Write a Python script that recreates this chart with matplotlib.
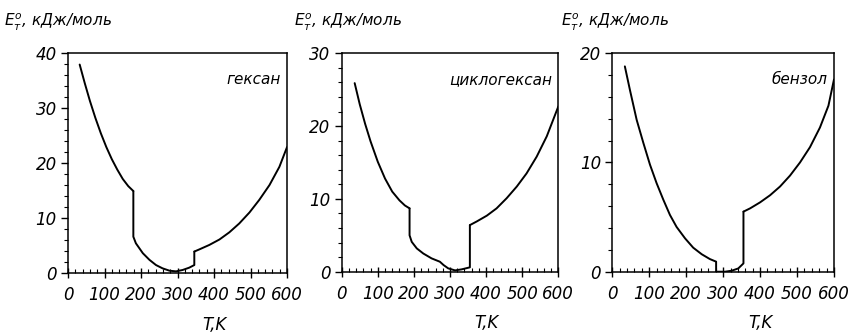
import matplotlib
matplotlib.use("Agg")
import matplotlib.pyplot as plt
from matplotlib.ticker import MultipleLocator

# ---- data ----
hex_T1 = [32, 46, 60, 75, 90, 105, 120, 135, 150, 165, 179]
hex_E1 = [37.9, 34.5, 31.3, 28.2, 25.4, 22.9, 20.7, 18.8, 17.1, 15.8, 14.9]
hex_T2 = [179, 179, 186, 205, 223, 241, 259, 278, 296, 314, 332, 346, 346]
hex_E2 = [14.9, 6.6, 5.4, 3.6, 2.4, 1.45, 0.85, 0.42, 0.3, 0.55, 0.97, 1.45, 3.9]
hex_T3 = [346, 360, 387, 415, 442, 469, 497, 524, 552, 579, 600]
hex_E3 = [3.9, 4.3, 5.1, 6.1, 7.4, 9.0, 11.0, 13.3, 16.0, 19.3, 22.9]

cyc_T1 = [36, 50, 65, 80, 100, 120, 140, 160, 175, 188]
cyc_E1 = [25.9, 23.0, 20.3, 17.9, 15.1, 12.8, 11.0, 9.8, 9.1, 8.7]
cyc_T2 = [188, 188, 194, 208, 226, 249, 272, 282, 295, 314, 332, 355, 355]
cyc_E2 = [8.7, 5.0, 4.1, 3.2, 2.5, 1.83, 1.37, 0.92, 0.46, 0.18, 0.32, 0.6, 6.4]
cyc_T3 = [355, 374, 402, 429, 457, 485, 512, 540, 568, 600]
cyc_E3 = [6.4, 6.9, 7.7, 8.7, 10.1, 11.7, 13.5, 15.8, 18.6, 22.7]

ben_T1 = [34, 48, 66, 84, 102, 120, 138, 156, 174, 197, 219, 242, 264, 281, 281]
ben_E1 = [18.8, 16.6, 13.9, 11.8, 9.8, 8.1, 6.6, 5.2, 4.1, 3.05, 2.2, 1.6, 1.16, 0.92, 0.0]
ben_T2 = [281, 305, 323, 341, 355, 355]
ben_E2 = [0.0, 0.0, 0.09, 0.3, 0.76, 5.5]
ben_T3 = [355, 373, 400, 427, 454, 481, 508, 535, 562, 585, 600]
ben_E3 = [5.5, 5.8, 6.35, 7.0, 7.8, 8.8, 10.0, 11.4, 13.2, 15.2, 17.6]

names = ["гексан", "циклогексан", "бензол"]
y_max = [40, 30, 20]
x_ticks = [0, 100, 200, 300, 400, 500, 600]
ylabel = r"$E_т^о$, кДж/моль"
xlabel = "T,K"

series = [
    [(hex_T1, hex_E1), (hex_T2, hex_E2), (hex_T3, hex_E3)],
    [(cyc_T1, cyc_E1), (cyc_T2, cyc_E2), (cyc_T3, cyc_E3)],
    [(ben_T1, ben_E1), (ben_T2, ben_E2), (ben_T3, ben_E3)],
]

plt.rcParams['font.family'] = ['DejaVu Sans']
plt.rcParams['mathtext.fontset'] = 'dejavusans'

fig = plt.figure(figsize=(8.51, 3.34), dpi=100)
rects = [
    [0.0799, 0.1826, 0.2574, 0.6587],
    [0.4015, 0.1865, 0.2546, 0.6540],
    [0.7195, 0.1865, 0.2605, 0.6540],
]
ylab_x = [-0.29, -0.22, -0.23]
fs = 12
for i, r in enumerate(rects):
    ax = fig.add_axes(r)
    for T, E in series[i]:
        ax.plot(T, E, color='black', lw=1.4, solid_joinstyle='round',
                solid_capstyle='round')
    ax.set_xlim(0, 600)
    ax.set_ylim(0, y_max[i])
    ax.set_xticks(x_ticks)
    ax.set_xticklabels([str(v) for v in x_ticks], style='italic', fontsize=fs)
    ax.xaxis.set_minor_locator(MultipleLocator(20))
    ax.yaxis.set_major_locator(MultipleLocator(10))
    ax.yaxis.set_minor_locator(MultipleLocator(2))
    for lab in ax.get_yticklabels():
        lab.set_style('italic')
        lab.set_fontsize(fs)
    ax.tick_params(axis='x', which='major', direction='inout', length=7, width=1, pad=6)
    ax.tick_params(axis='x', which='minor', direction='in', length=3, width=0.8)
    ax.tick_params(axis='y', which='major', direction='out', length=5, width=1, pad=3)
    ax.tick_params(axis='y', which='minor', direction='out', length=3, width=0.8)
    for s in ax.spines.values():
        s.set_linewidth(1.1)
    ax.text(0.97, 0.88, names[i], transform=ax.transAxes, ha='right', va='center',
            style='italic', fontsize=fs - 1)
    ax.text(ylab_x[i], 1.14, ylabel, transform=ax.transAxes, ha='left', va='center',
            style='italic', fontsize=fs - 1)
    ax.text(400, -0.235, xlabel, transform=ax.get_xaxis_transform(), ha='center',
            va='center', style='italic', fontsize=fs)

fig.savefig("out.png", dpi=100)
